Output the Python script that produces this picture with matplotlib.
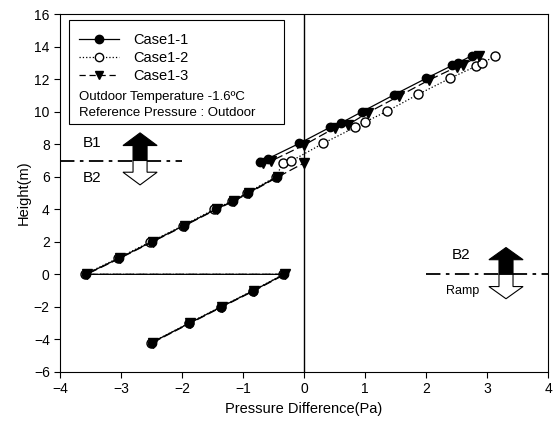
import numpy as np
import matplotlib.pyplot as plt
from matplotlib.patches import Rectangle
from matplotlib.lines import Line2D

plt.rcParams['font.family'] = ['Liberation Sans', 'DejaVu Sans']

# lower part (ramp + B2)
ramp_x = [-2.5, -1.88, -1.36, -0.83, -0.33]
ramp_y = [-4.2, -3.0, -2.0, -1.0, 0.0]
b2_x = [-3.58, -3.03, -2.5, -1.97, -1.45, -1.17, -0.92, -0.44]
b2_y = [0.0, 1.0, 2.0, 3.0, 4.0, 4.5, 5.0, 6.0]
# Case1-2 sits a touch to the left in the lower part
c2_ramp_x = [-2.51, -1.89, -1.37, -0.84, -0.34]
c2_b2_x = [-3.6, -3.05, -2.52, -1.99, -1.47, -1.19, -0.94, -0.46]

# upper part (B1)
c1_x = [-0.72, -0.6, -0.08, 0.43, 0.6, 0.95, 1.48, 2.0, 2.43, 2.52, 2.75]
c1_y = [6.9, 7.1, 8.05, 9.05, 9.3, 10.0, 11.05, 12.05, 12.85, 13.0, 13.45]
c2_x = [-0.35, -0.22, 0.31, 0.84, 0.99, 1.36, 1.87, 2.39, 2.82, 2.92, 3.13]
c2_y = [6.85, 6.95, 8.05, 9.05, 9.35, 10.03, 11.07, 12.05, 12.8, 13.0, 13.4]
c3_x = [-0.68, -0.55, 0.0, 0.5, 0.72, 1.05, 1.55, 2.05, 2.5, 2.6, 2.87]
c3_y = [6.85, 6.95, 7.95, 9.0, 9.2, 9.95, 10.95, 11.95, 12.75, 12.9, 13.4]
c3_top_x = 0.0
c3_top_y = 6.85

fig = plt.figure(figsize=(5.57, 4.28), dpi=100)
ax = fig.add_axes([0.108, 0.131, 0.876, 0.836])

kw = dict(color='black', lw=0.9)

# Case1-2 (open circles, dotted)
ax.plot(c2_ramp_x + c2_b2_x + c2_x, ramp_y + b2_y + c2_y, ls=':', marker='o',
        mfc='white', mec='black', ms=6.5, **kw)
# Case1-1 (filled circles, solid)
ax.plot(ramp_x + b2_x, ramp_y + b2_y, ls='-', marker='o', mfc='black', ms=6, **kw)
ax.plot(c1_x, c1_y, ls='-', marker='o', mfc='black', ms=6, **kw)
# Case1-3 (triangles, dashed)
ax.plot([x + 0.015 for x in ramp_x + b2_x] + [c3_top_x], ramp_y + b2_y + [c3_top_y],
        ls=(0, (7, 3)), marker='v', mfc='black', ms=6.5, **kw)
ax.plot(c3_x, c3_y, ls=(0, (7, 3)), marker='v', mfc='black', ms=6.5, **kw)

ax.axvline(0, color='black', lw=1)


def arrow(x, y0, y1, head, fc):
    sw, hw = 0.115, 0.28
    ys = y1 - head if y1 > y0 else y1 + head
    px = [x - sw, x + sw, x + sw, x + hw, x, x - hw, x - sw]
    py = [y0, y0, ys, ys, y1, ys, ys]
    ax.fill(px, py, facecolor=fc, edgecolor='black', lw=0.8, zorder=4)


# B1 / B2 boundary
ax.plot([-4, -2.0], [7, 7], color='black', lw=1.3, ls=(0, (8, 3, 2, 3)))
arrow(-2.69, 7, 8.7, 0.78, 'black')
arrow(-2.69, 7, 5.5, 0.78, 'white')
ax.text(-3.47, 8.1, 'B1', fontsize=11, ha='center', va='center')
ax.text(-3.47, 5.95, 'B2', fontsize=11, ha='center', va='center')

# B2 / Ramp boundary
ax.plot([2.0, 4], [0, 0], color='black', lw=1.3, ls=(0, (8, 3, 2, 3)))
arrow(3.31, 0, 1.65, 0.75, 'black')
arrow(3.31, 0, -1.5, 0.75, 'white')
ax.text(2.57, 1.2, 'B2', fontsize=11, ha='center', va='center')
ax.text(2.6, -1.0, 'Ramp', fontsize=9, ha='center', va='center')

ax.set_xlim(-4, 4)
ax.set_ylim(-6, 16)
ax.set_xticks(range(-4, 5))
ax.set_yticks(range(-6, 17, 2))
ax.tick_params(direction='out', length=4, width=0.8, labelsize=10, top=False, right=False)
for s in ax.spines.values():
    s.set_linewidth(0.8)
ax.set_xlabel('Pressure Difference(Pa)', fontsize=10.5, labelpad=4)
ax.set_ylabel('Height(m)', fontsize=10.5, labelpad=2)

# legend box
ax.add_patch(Rectangle((0.018, 0.693), 0.441, 0.29, transform=ax.transAxes,
                       facecolor='white', edgecolor='black', lw=0.8, zorder=5))
handles = [
    Line2D([], [], color='black', lw=0.9, ls='-', marker='o', mfc='black', ms=6),
    Line2D([], [], color='black', lw=0.9, ls=':', marker='o', mfc='white', ms=6),
    Line2D([], [], color='black', lw=0.9, ls=(0, (5, 3)), marker='v', mfc='black', ms=6),
]
leg = ax.legend(handles, ['Case1-1', 'Case1-2', 'Case1-3'], loc='upper left',
                bbox_to_anchor=(0.012, 0.985), frameon=False, fontsize=10.5,
                handlelength=2.7, handletextpad=1.0, labelspacing=0.3)
leg.set_zorder(6)
ax.text(0.038, 0.767, 'Outdoor Temperature -1.6\u00baC', transform=ax.transAxes,
        fontsize=9.5, va='center', zorder=6)
ax.text(0.038, 0.724, 'Reference Pressure : Outdoor', transform=ax.transAxes,
        fontsize=9.5, va='center', zorder=6)

fig.savefig('out.png', dpi=100)
